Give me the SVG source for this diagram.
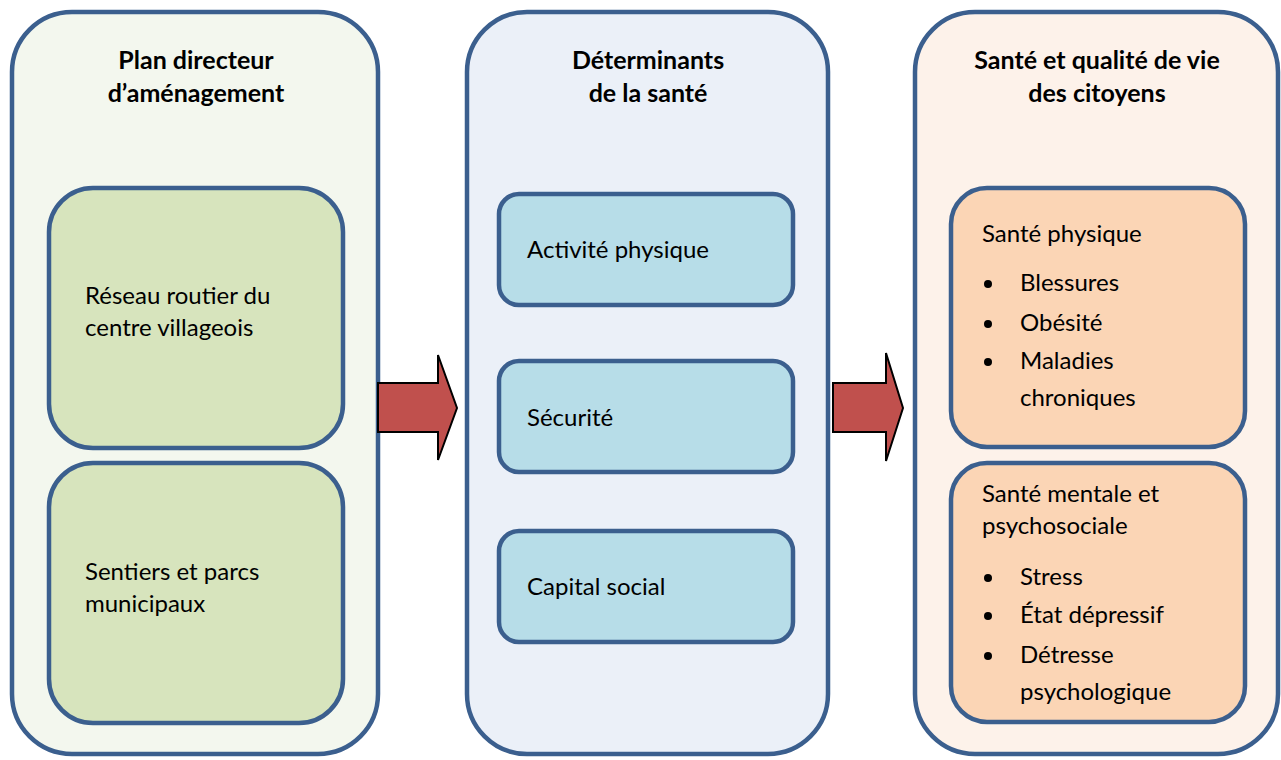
<svg xmlns="http://www.w3.org/2000/svg" width="1281" height="760" viewBox="0 0 1281 760">
<style>
.box{stroke:#3B5F8E;stroke-width:4.5}
.t{font-family:Lato,"Liberation Sans",sans-serif;font-size:24px;fill:#000}
.h{font-family:Lato,"Liberation Sans",sans-serif;font-size:25px;font-weight:bold;fill:#000;text-anchor:middle}
.arrow{fill:#C0504D;stroke:#000;stroke-width:2}
</style>
<rect width="1281" height="760" fill="#fff"/>
<g id="col1">
<rect class="box" x="12" y="12" width="366" height="742" rx="60" fill="#F3F7EE"/>
<text class="h" x="196" y="69">Plan directeur</text>
<text class="h" x="196" y="102">d’aménagement</text>
</g>
<g id="reseau">
<rect class="box" x="49" y="188" width="294" height="260" rx="44" fill="#D7E4BD"/>
<text class="t" x="85" y="304">Réseau routier du</text>
<text class="t" x="85" y="336">centre villageois</text>
</g>
<g id="sentiers">
<rect class="box" x="49" y="463" width="294" height="260" rx="44" fill="#D7E4BD"/>
<text class="t" x="85" y="580">Sentiers et parcs</text>
<text class="t" x="85" y="612">municipaux</text>
</g>
<g id="col2">
<rect class="box" x="467" y="12" width="361" height="742" rx="60" fill="#EBF0F8"/>
<text class="h" x="648" y="69">Déterminants</text>
<text class="h" x="648" y="102">de la santé</text>
</g>
<g id="activite">
<rect class="box" x="499" y="194" width="294" height="111" rx="20" fill="#B7DDE8"/>
<text class="t" x="527" y="258">Activité physique</text>
</g>
<g id="securite">
<rect class="box" x="499" y="361" width="294" height="111" rx="20" fill="#B7DDE8"/>
<text class="t" x="527" y="426">Sécurité</text>
</g>
<g id="capital">
<rect class="box" x="499" y="531" width="294" height="111" rx="20" fill="#B7DDE8"/>
<text class="t" x="527" y="595">Capital social</text>
</g>
<g id="col3">
<rect class="box" x="915" y="12" width="363" height="742" rx="60" fill="#FDF2EA"/>
<text class="h" x="1097" y="69">Santé et qualité de vie</text>
<text class="h" x="1097" y="102">des citoyens</text>
</g>
<g id="physique">
<rect class="box" x="951" y="188" width="294" height="259" rx="36" fill="#FBD5B5"/>
<text class="t" x="982" y="242">Santé physique</text>
<circle cx="988" cy="284" r="4"/>
<text class="t" x="1020" y="291">Blessures</text>
<circle cx="988" cy="324" r="4"/>
<text class="t" x="1020" y="331">Obésité</text>
<circle cx="988" cy="362" r="4"/>
<text class="t" x="1020" y="369">Maladies</text>
<text class="t" x="1020" y="406">chroniques</text>
</g>
<g id="mentale">
<rect class="box" x="951" y="463" width="294" height="259" rx="36" fill="#FBD5B5"/>
<text class="t" x="982" y="502">Santé mentale et</text>
<text class="t" x="982" y="534">psychosociale</text>
<circle cx="988" cy="578" r="4"/>
<text class="t" x="1020" y="585">Stress</text>
<circle cx="988" cy="616" r="4"/>
<text class="t" x="1020" y="623">État dépressif</text>
<circle cx="988" cy="656" r="4"/>
<text class="t" x="1020" y="663">Détresse</text>
<text class="t" x="1020" y="700">psychologique</text>
</g>
<g id="connectors">
<polygon class="arrow" points="378,383 438,383 438,355 457,408 438,460 438,432 378,432"/>
<polygon class="arrow" points="833,383 886,383 886,353 903,408 886,461 886,432 833,432"/>
</g>
</svg>
